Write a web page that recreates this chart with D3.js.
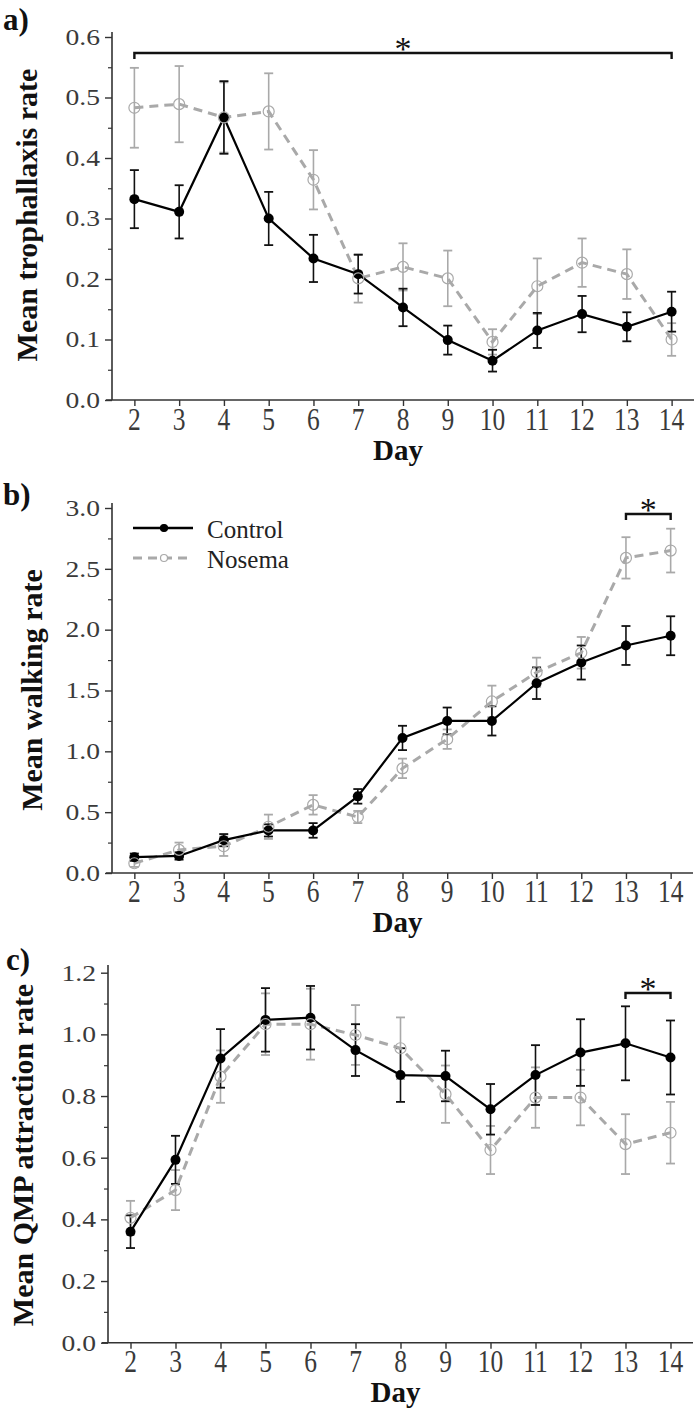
<!DOCTYPE html>
<html>
<head>
<meta charset="utf-8">
<script src="https://cdn.jsdelivr.net/npm/d3@7"></script>
<style>
  html, body { margin: 0; padding: 0; background: #fff; }
  svg { display: block; font-family: "Liberation Serif", "Times New Roman", serif; }
</style>
</head>
<body>
<svg id="chart" width="700" height="1410"></svg>
<script>
// ---------------- data ----------------
const days = [2, 3, 4, 5, 6, 7, 8, 9, 10, 11, 12, 13, 14];
const seriesNames = ["Control", "Nosema"];

// a) trophallaxis
const trophControl    = [0.332, 0.311, 0.467, 0.300, 0.234, 0.208, 0.153, 0.099, 0.065, 0.115, 0.142, 0.121, 0.146];
const trophControlErr = [0.048, 0.044, 0.060, 0.044, 0.039, 0.032, 0.031, 0.024, 0.018, 0.029, 0.030, 0.024, 0.033];
const trophNosema     = [0.483, 0.489, 0.467, 0.477, 0.364, 0.201, 0.220, 0.201, 0.096, 0.188, 0.227, 0.208, 0.100];
const trophNosemaErr  = [0.066, 0.063, 0.058, 0.063, 0.049, 0.040, 0.039, 0.046, 0.021, 0.046, 0.040, 0.041, 0.027];

// b) walking
const walkControl    = [0.13, 0.14, 0.27, 0.35, 0.35, 0.63, 1.11, 1.25, 1.25, 1.56, 1.73, 1.87, 1.95];
const walkControlErr = [0.03, 0.03, 0.05, 0.05, 0.06, 0.06, 0.10, 0.11, 0.12, 0.13, 0.14, 0.16, 0.16];
const walkNosema     = [0.08, 0.19, 0.22, 0.38, 0.56, 0.46, 0.86, 1.10, 1.41, 1.65, 1.81, 2.59, 2.65];
const walkNosemaErr  = [0.03, 0.06, 0.08, 0.10, 0.08, 0.05, 0.08, 0.08, 0.13, 0.12, 0.13, 0.17, 0.18];

// c) QMP attraction
const qmpControl    = [0.360, 0.593, 0.922, 1.047, 1.054, 0.949, 0.868, 0.865, 0.757, 0.868, 0.941, 0.971, 0.925];
const qmpControlErr = [0.053, 0.078, 0.095, 0.103, 0.103, 0.084, 0.087, 0.082, 0.082, 0.097, 0.108, 0.120, 0.120];
const qmpNosema     = [0.405, 0.495, 0.863, 1.033, 1.033, 0.998, 0.955, 0.806, 0.625, 0.795, 0.795, 0.644, 0.681];
const qmpNosemaErr  = [0.055, 0.065, 0.085, 0.100, 0.115, 0.097, 0.100, 0.093, 0.078, 0.098, 0.090, 0.097, 0.100];

// tick labels
const yTicksA = [0.0, 0.1, 0.2, 0.3, 0.4, 0.5, 0.6];
const yTicksB = [0.0, 0.5, 1.0, 1.5, 2.0, 2.5, 3.0];
const yTicksC = [0.0, 0.2, 0.4, 0.6, 0.8, 1.0, 1.2];

// significance brackets [fromDay, toDay]
const sigA = [2, 14];
const sigB = [13, 14];
const sigC = [13, 14];

// ---------------- layout ----------------
const panels = [
  { tag: "a)", tagX: 3, tagY: 30, ylabel: "Mean trophallaxis rate", ylabX: 37, ylabY: 215,
    xr: [112, 694], yr: [400, 37], axisTop: 32, ymax: 0.6, ticks: yTicksA, minor: 0.05, fmt: ".1f",
    ctrl: trophControl, ctrlErr: trophControlErr, nos: trophNosema, nosErr: trophNosemaErr,
    sig: sigA, sigY: 53, xlabBase: 430, dayBase: 460, legend: false },
  { tag: "b)", tagX: 3, tagY: 505, ylabel: "Mean walking rate", ylabX: 42, ylabY: 690,
    xr: [112, 693], yr: [873, 508], axisTop: 503, ymax: 3.0, ticks: yTicksB, minor: 0.25, fmt: ".1f",
    ctrl: walkControl, ctrlErr: walkControlErr, nos: walkNosema, nosErr: walkNosemaErr,
    sig: sigB, sigY: 514, xlabBase: 902, dayBase: 932, legend: true },
  { tag: "c)", tagX: 6, tagY: 970, ylabel: "Mean QMP attraction rate", ylabX: 33, ylabY: 1155,
    xr: [108, 693], yr: [1342.7, 972.7], axisTop: 965, ymax: 1.2, ticks: yTicksC, minor: 0.1, fmt: ".1f",
    ctrl: qmpControl, ctrlErr: qmpControlErr, nos: qmpNosema, nosErr: qmpNosemaErr,
    sig: sigC, sigY: 993, xlabBase: 1372, dayBase: 1402, legend: false }
];

const svg = d3.select("#chart");
const AX = "#333";
const GRAY = "#a9a9a9";

panels.forEach(p => {
  const g = svg.append("g");
  const x = d3.scaleLinear().domain([1.5, 14.5]).range(p.xr);
  const y = d3.scaleLinear().domain([0, p.ymax]).range(p.yr);
  const x0 = p.xr[0];
  const y0 = y(0);

  // y axis line
  g.append("line").attr("x1", x0).attr("x2", x0).attr("y1", y0).attr("y2", p.axisTop)
    .attr("stroke", AX).attr("stroke-width", 1.6);
  // x axis line
  g.append("line").attr("x1", x0 - 6).attr("x2", p.xr[1]).attr("y1", y0).attr("y2", y0)
    .attr("stroke", AX).attr("stroke-width", 1.6);

  // y axis ticks via d3 axis (major)
  const yAxis = d3.axisLeft(y).tickValues(p.ticks).tickSize(7).tickFormat("");
  const ga = g.append("g").attr("transform", `translate(${x0},0)`).call(yAxis);
  ga.select(".domain").remove();
  ga.selectAll("line").attr("stroke", AX).attr("stroke-width", 1.4);
  // minor ticks
  const minorVals = d3.range(p.minor, p.ymax, p.minor * 2).filter(v => v < p.ymax);
  const yMinor = d3.axisLeft(y).tickValues(minorVals).tickSize(4).tickFormat("");
  const gm = g.append("g").attr("transform", `translate(${x0},0)`).call(yMinor);
  gm.select(".domain").remove();
  gm.selectAll("line").attr("stroke", AX).attr("stroke-width", 1.2);
  // y tick labels (horizontally stretched serif)
  g.selectAll("text.ytl").data(p.ticks).join("text").attr("class", "ytl")
    .attr("transform", d => `translate(${x0 - 12},${y(d)}) scale(1.2,1)`)
    .attr("text-anchor", "end").attr("dy", "0.34em")
    .attr("font-size", 23).attr("fill", "#3a3a3a")
    .text(d => d3.format(p.fmt)(d));

  // x axis ticks
  const xAxis = d3.axisBottom(x).tickValues(days).tickSize(6).tickFormat("");
  const gx = g.append("g").attr("transform", `translate(0,${y0})`).call(xAxis);
  gx.select(".domain").remove();
  gx.selectAll("line").attr("stroke", AX).attr("stroke-width", 1.4);
  g.selectAll("text.xtl").data(days).join("text").attr("class", "xtl")
    .attr("transform", d => `translate(${x(d)},${p.xlabBase}) scale(1,1.2)`)
    .attr("text-anchor", "middle")
    .attr("font-size", 25.5).attr("fill", "#3a3a3a")
    .text(d => d);

  // axis titles
  g.append("text").attr("x", (x(2) + x(14)) / 2 - 5).attr("y", p.dayBase)
    .attr("text-anchor", "middle").attr("font-size", 29).attr("font-weight", "bold")
    .attr("fill", "#111").text("Day");
  g.append("text").attr("transform", `translate(${p.ylabX},${p.ylabY}) rotate(-90)`)
    .attr("text-anchor", "middle").attr("font-size", 30).attr("font-weight", "bold")
    .attr("fill", "#111").text(p.ylabel);
  g.append("text").attr("x", p.tagX).attr("y", p.tagY)
    .attr("font-size", 31).attr("font-weight", "bold").attr("fill", "#111").text(p.tag);

  const rows = days.map((d, i) => ({ d, c: p.ctrl[i], ce: p.ctrlErr[i], n: p.nos[i], ne: p.nosErr[i] }));
  const cap = 4.5;

  // error bars
  function errBars(key, ekey, color) {
    const eg = g.append("g");
    eg.selectAll("line.v").data(rows).join("line")
      .attr("x1", r => x(r.d)).attr("x2", r => x(r.d))
      .attr("y1", r => y(r[key] - r[ekey])).attr("y2", r => y(r[key] + r[ekey]))
      .attr("stroke", color).attr("stroke-width", 1.6);
    [1, -1].forEach(s => {
      eg.append("g").selectAll("line").data(rows).join("line")
        .attr("x1", r => x(r.d) - cap).attr("x2", r => x(r.d) + cap)
        .attr("y1", r => y(r[key] + s * r[ekey]))
        .attr("y2", r => y(r[key] + s * r[ekey]))
        .attr("stroke", color).attr("stroke-width", 1.8);
    });
  }
  errBars("n", "ne", GRAY);
  errBars("c", "ce", "#111");

  const lineN = d3.line().x(r => x(r.d)).y(r => y(r.n));
  const lineC = d3.line().x(r => x(r.d)).y(r => y(r.c));
  g.append("path").datum(rows).attr("d", lineN).attr("fill", "none")
    .attr("stroke", GRAY).attr("stroke-width", 3).attr("stroke-dasharray", "9,6");
  g.append("path").datum(rows).attr("d", lineC).attr("fill", "none")
    .attr("stroke", "#000").attr("stroke-width", 2.2);
  g.selectAll("circle.c").data(rows).join("circle").attr("class", "c")
    .attr("cx", r => x(r.d)).attr("cy", r => y(r.c)).attr("r", 5).attr("fill", "#000");
  g.selectAll("circle.n").data(rows).join("circle").attr("class", "n")
    .attr("cx", r => x(r.d)).attr("cy", r => y(r.n)).attr("r", 5.5)
    .attr("fill", "none").attr("stroke", GRAY).attr("stroke-width", 1.2);

  // significance bracket
  const sx1 = x(p.sig[0]), sx2 = x(p.sig[1]);
  g.append("path")
    .attr("d", `M${sx1},${p.sigY + 6}V${p.sigY}H${sx2}V${p.sigY + 6}`)
    .attr("fill", "none").attr("stroke", "#111").attr("stroke-width", 2.4);
  g.append("text").attr("x", (sx1 + sx2) / 2).attr("y", p.sigY + 7)
    .attr("text-anchor", "middle").attr("font-size", 34).attr("fill", "#111").text("*");

  // legend
  if (p.legend) {
    const lg = g.append("g");
    const items = [
      { name: seriesNames[0], ly: 528, color: "#000", dash: null, w: 2.6, filled: true },
      { name: seriesNames[1], ly: 558, color: GRAY, dash: "9,6", w: 3, filled: false }
    ];
    items.forEach(it => {
      lg.append("line").attr("x1", 133).attr("x2", 193).attr("y1", it.ly).attr("y2", it.ly)
        .attr("stroke", it.color).attr("stroke-width", it.w).attr("stroke-dasharray", it.dash);
      lg.append("circle").attr("cx", 164).attr("cy", it.ly).attr("r", 3.5)
        .attr("fill", it.filled ? "#000" : "#fff").attr("stroke", it.color).attr("stroke-width", 1.2);
      lg.append("text").attr("x", 207).attr("y", it.ly + 5).attr("dy", "0.2em")
        .attr("font-size", 25).attr("fill", "#222").text(it.name);
    });
  }
});
</script>
</body>
</html>
